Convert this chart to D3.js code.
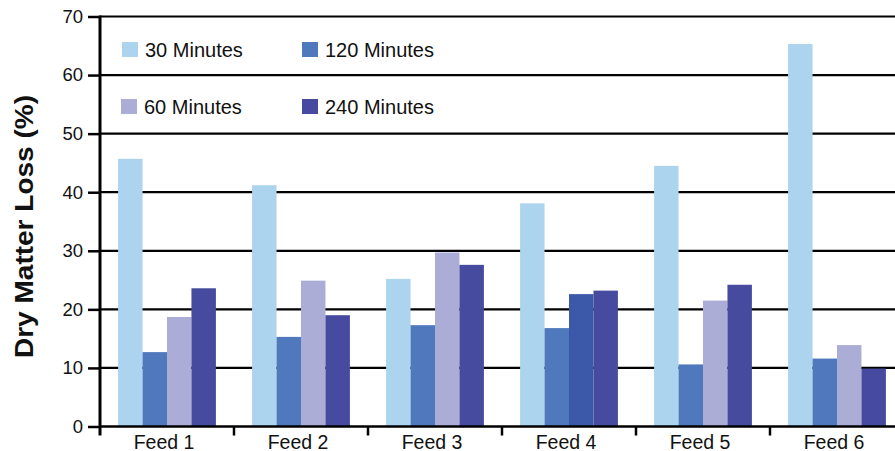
<!DOCTYPE html>
<html>
<head>
<meta charset="utf-8">
<script src="https://cdn.jsdelivr.net/npm/d3@7"></script>
<style>
  html, body { margin: 0; padding: 0; background: #fff; }
  svg { display: block; }
  text { font-family: "Liberation Sans", Arial, Helvetica, sans-serif; fill: #111; }
</style>
</head>
<body>
<svg id="chart" width="895" height="451"></svg>
<script>
// Feeds along the x axis
const feeds = ["Feed 1", "Feed 2", "Feed 3", "Feed 4", "Feed 5", "Feed 6"];
// Incubation times (series)
const series = ["30 Minutes", "60 Minutes", "120 Minutes", "240 Minutes"];
// Dry matter loss (%) per series, one value per feed
const loss30 = [45.7, 41.2, 25.2, 38.1, 44.5, 65.3];
const loss60 = [18.7, 24.9, 29.7, 22.6, 21.5, 13.9];
const loss120 = [12.7, 15.3, 17.3, 16.8, 10.6, 11.6];
const loss240 = [23.6, 19.0, 27.6, 23.2, 24.2, 9.9];
// Y axis ticks
const yTicks = [0, 10, 20, 30, 40, 50, 60, 70];

const values = { "30 Minutes": loss30, "60 Minutes": loss60, "120 Minutes": loss120, "240 Minutes": loss240 };
// Bar order within each group
const barOrder = ["30 Minutes", "120 Minutes", "60 Minutes", "240 Minutes"];

const colors = {
  "30 Minutes": "#acd4ef",
  "120 Minutes": "#5078bd",
  "60 Minutes": "#abadd7",
  "240 Minutes": "#464b9f"
};
// Feed 4's 60-minute bar is printed in a deeper blue
function barColor(feed, s) {
  if (feed === "Feed 4" && s === "60 Minutes") return "#3b59a8";
  return colors[s];
}

const svg = d3.select("#chart");
const plotLeft = 100, plotRight = 904, plotTop = 16.5, plotBottom = 426.5;

const y = d3.scaleLinear().domain([0, 70]).range([plotBottom, plotTop]);
const x0 = d3.scaleBand().domain(feeds).range([plotLeft, plotRight]).paddingInner(0).paddingOuter(0);
const x1 = d3.scaleBand().domain(barOrder).range([0, x0.bandwidth()]).paddingInner(0).paddingOuter(0.74);

// Horizontal grid lines (behind the bars)
svg.append("g")
  .selectAll("line")
  .data(yTicks.filter(t => t > 0))
  .join("line")
  .attr("x1", plotLeft).attr("x2", plotRight)
  .attr("y1", d => y(d)).attr("y2", d => y(d))
  .attr("stroke", "#000").attr("stroke-width", 2.2);

// Legend
const legendPos = [
  { s: "30 Minutes", x: 122, y: 42 },
  { s: "120 Minutes", x: 302, y: 42 },
  { s: "60 Minutes", x: 121, y: 99 },
  { s: "240 Minutes", x: 302, y: 99 }
];
const lg = svg.append("g").selectAll("g").data(legendPos).join("g")
  .attr("transform", d => `translate(${d.x},${d.y})`);
lg.append("rect").attr("width", 16).attr("height", 15).attr("fill", d => colors[d.s]);
lg.append("text").attr("x", 23).attr("y", 14.5).attr("font-size", 20).text(d => d.s);

// Bars
const groups = svg.append("g").selectAll("g").data(feeds).join("g")
  .attr("transform", f => `translate(${x0(f)},0)`);
groups.selectAll("rect")
  .data((f, i) => barOrder.map(s => ({ feed: f, s, v: values[s][i] })))
  .join("rect")
  .attr("x", d => x1(d.s))
  .attr("width", x1.bandwidth())
  .attr("y", d => y(d.v))
  .attr("height", d => y(0) - y(d.v))
  .attr("fill", d => barColor(d.feed, d.s));

// Y axis
const yAxis = d3.axisLeft(y).tickValues(yTicks).tickSize(12).tickPadding(5).tickFormat(d3.format("d"));
const yg = svg.append("g").attr("transform", `translate(${plotLeft},0)`).call(yAxis);
yg.select(".domain").remove();
yg.selectAll(".tick line").attr("stroke", "#000").attr("stroke-width", 2.5);
yg.selectAll(".tick text").attr("font-size", 18.5).attr("fill", "#111")
  .attr("font-family", "'Liberation Sans', Arial, sans-serif");
svg.append("line").attr("x1", plotLeft).attr("x2", plotLeft).attr("y1", plotTop - 1).attr("y2", plotBottom + 9)
  .attr("stroke", "#000").attr("stroke-width", 3);

// X axis baseline, separators between feeds and labels
svg.append("line").attr("x1", plotLeft).attr("x2", plotRight).attr("y1", plotBottom).attr("y2", plotBottom)
  .attr("stroke", "#000").attr("stroke-width", 2.5);
const sep = feeds.slice(1).map(f => x0(f));
svg.append("g").selectAll("line").data(sep).join("line")
  .attr("x1", d => d).attr("x2", d => d).attr("y1", plotBottom).attr("y2", plotBottom + 9)
  .attr("stroke", "#000").attr("stroke-width", 2.5);
svg.append("g").selectAll("text").data(feeds).join("text")
  .attr("x", f => x0(f) + x0.bandwidth() / 2 - 3)
  .attr("y", 448.5)
  .attr("text-anchor", "middle")
  .attr("font-size", 19.5)
  .text(f => f);

// Y axis title
svg.append("text")
  .attr("transform", "translate(33,226.5) rotate(-90)")
  .attr("text-anchor", "middle")
  .attr("font-family", "Lato, 'Open Sans', sans-serif")
  .attr("font-weight", 900)
  .attr("font-size", 26)
  .attr("textLength", 263)
  .attr("lengthAdjust", "spacingAndGlyphs")
  .text("Dry Matter Loss (%)");
</script>
</body>
</html>
